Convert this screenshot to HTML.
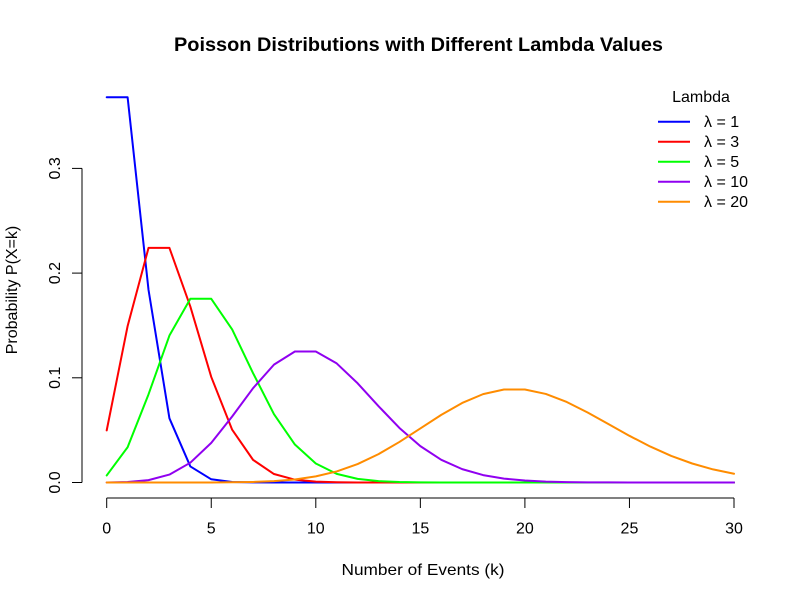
<!DOCTYPE html>
<html>
<head>
<meta charset="utf-8">
<style>
  html, body { margin: 0; padding: 0; background: #ffffff; }
  svg { display: block; }
  text { font-family: "Liberation Sans", Arial, Helvetica, sans-serif; fill: #000; }
</style>
</head>
<body>
<svg width="800" height="600" viewBox="0 0 800 600" xmlns="http://www.w3.org/2000/svg">
  <rect x="0" y="0" width="800" height="600" fill="#ffffff"/>

  <!-- Title -->
  <text x="174" y="51" font-size="19.5" font-weight="bold" textLength="489" lengthAdjust="spacingAndGlyphs">Poisson Distributions with Different Lambda Values</text>

  <!-- Y axis -->
  <g stroke="#000" stroke-width="1" fill="none">
    <line x1="82" y1="168.4" x2="82" y2="482.5"/>
    <line x1="72" y1="482.5" x2="82" y2="482.5"/>
    <line x1="72" y1="377.8" x2="82" y2="377.8"/>
    <line x1="72" y1="273.1" x2="82" y2="273.1"/>
    <line x1="72" y1="168.4" x2="82" y2="168.4"/>
  </g>
  <g font-size="16" text-anchor="middle">
    <text transform="translate(60,482.5) rotate(-90)">0.0</text>
    <text transform="translate(60,377.8) rotate(-90)">0.1</text>
    <text transform="translate(60,273.1) rotate(-90)">0.2</text>
    <text transform="translate(60,168.4) rotate(-90)">0.3</text>
  </g>
  <text transform="translate(17,290) rotate(-90)" font-size="16" text-anchor="middle">Probability P(X=k)</text>

  <!-- X axis -->
  <g stroke="#000" stroke-width="1" fill="none">
    <line x1="106.7" y1="498" x2="734" y2="498"/>
    <line x1="106.7" y1="498" x2="106.7" y2="508"/>
    <line x1="211.25" y1="498" x2="211.25" y2="508"/>
    <line x1="315.8" y1="498" x2="315.8" y2="508"/>
    <line x1="420.35" y1="498" x2="420.35" y2="508"/>
    <line x1="524.9" y1="498" x2="524.9" y2="508"/>
    <line x1="629.45" y1="498" x2="629.45" y2="508"/>
    <line x1="734" y1="498" x2="734" y2="508"/>
  </g>
  <g font-size="16" text-anchor="middle">
    <text x="106.7" y="533.5">0</text>
    <text x="211.25" y="533.5">5</text>
    <text x="315.8" y="533.5">10</text>
    <text x="420.35" y="533.5">15</text>
    <text x="524.9" y="533.5">20</text>
    <text x="629.45" y="533.5">25</text>
    <text x="734" y="533.5">30</text>
  </g>
  <text x="423" y="575" font-size="16" text-anchor="middle" textLength="163" lengthAdjust="spacingAndGlyphs">Number of Events (k)</text>

  <!-- Series -->
  <g fill="none" stroke-width="2" stroke-linejoin="round" stroke-linecap="round">
    <polyline stroke="#0000FF" points="106.7,97.3 127.61,97.3 148.52,289.9 169.43,418.3 190.34,466.45 211.25,479.29 232.16,481.97 253.07,482.42 273.98,482.5 294.89,482.5 315.8,482.5 336.71,482.5 357.62,482.5 378.53,482.5 399.44,482.5 420.35,482.5 441.26,482.5 462.17,482.5 483.08,482.5 503.99,482.5 524.9,482.5 545.81,482.5 566.72,482.5 587.63,482.5 608.54,482.5 629.45,482.5 650.36,482.5 671.27,482.5 692.18,482.5 713.09,482.5 734,482.5"/>
    <polyline stroke="#FF0000" points="106.7,430.37 127.61,326.12 148.52,247.93 169.43,247.93 190.34,306.57 211.25,376.94 232.16,429.72 253.07,459.88 273.98,474.02 294.89,479.67 315.8,481.65 336.71,482.27 357.62,482.44 378.53,482.5 399.44,482.5 420.35,482.5 441.26,482.5 462.17,482.5 483.08,482.5 503.99,482.5 524.9,482.5 545.81,482.5 566.72,482.5 587.63,482.5 608.54,482.5 629.45,482.5 650.36,482.5 671.27,482.5 692.18,482.5 713.09,482.5 734,482.5"/>
    <polyline stroke="#00FF00" points="106.7,475.45 127.61,447.23 148.52,394.32 169.43,335.53 190.34,298.79 211.25,298.79 232.16,329.4 253.07,373.15 273.98,414.15 294.89,444.53 315.8,463.51 336.71,473.87 357.62,478.9 378.53,481.12 399.44,482.01 420.35,482.34 441.26,482.45 462.17,482.5 483.08,482.5 503.99,482.5 524.9,482.5 545.81,482.5 566.72,482.5 587.63,482.5 608.54,482.5 629.45,482.5 650.36,482.5 671.27,482.5 692.18,482.5 713.09,482.5 734,482.5"/>
    <polyline stroke="#9000F0" points="106.7,482.45 127.61,482.02 148.52,480.12 169.43,474.58 190.34,462.69 211.25,442.89 232.16,416.48 253.07,388.19 273.98,364.61 294.89,351.51 315.8,351.51 336.71,363.42 357.62,383.27 378.53,406.17 399.44,427.98 420.35,446.15 441.26,459.78 462.17,469.14 483.08,475.08 503.99,478.59 524.9,480.55 545.81,481.57 566.72,482.08 587.63,482.32 608.54,482.42 629.45,482.47 650.36,482.5 671.27,482.5 692.18,482.5 713.09,482.5 734,482.5"/>
    <polyline stroke="#FF8C00" points="106.7,482.5 127.61,482.5 148.52,482.5 169.43,482.5 190.34,482.49 211.25,482.44 232.16,482.31 253.07,481.95 273.98,481.13 294.89,479.46 315.8,476.41 336.71,471.43 357.62,464.05 378.53,454.11 399.44,441.94 420.35,428.42 441.26,414.9 462.17,402.98 483.08,394.14 503.99,389.49 524.9,389.49 545.81,393.92 566.72,401.97 587.63,412.48 608.54,424.15 629.45,435.82 650.36,446.59 671.27,455.9 692.18,463.5 713.09,469.4 734,473.76"/>
  </g>

  <!-- Legend -->
  <text x="701" y="102" font-size="16" text-anchor="middle">Lambda</text>
  <g stroke-width="2" fill="none">
    <line x1="658" y1="121.7" x2="690" y2="121.7" stroke="#0000FF"/>
    <line x1="658" y1="141.7" x2="690" y2="141.7" stroke="#FF0000"/>
    <line x1="658" y1="161.7" x2="690" y2="161.7" stroke="#00FF00"/>
    <line x1="658" y1="181.7" x2="690" y2="181.7" stroke="#9000F0"/>
    <line x1="658" y1="201.7" x2="690" y2="201.7" stroke="#FF8C00"/>
  </g>
  <g font-size="16">
    <text x="704" y="127.2">λ = 1</text>
    <text x="704" y="147.2">λ = 3</text>
    <text x="704" y="167.2">λ = 5</text>
    <text x="704" y="187.2">λ = 10</text>
    <text x="704" y="207.2">λ = 20</text>
  </g>
</svg>
</body>
</html>
